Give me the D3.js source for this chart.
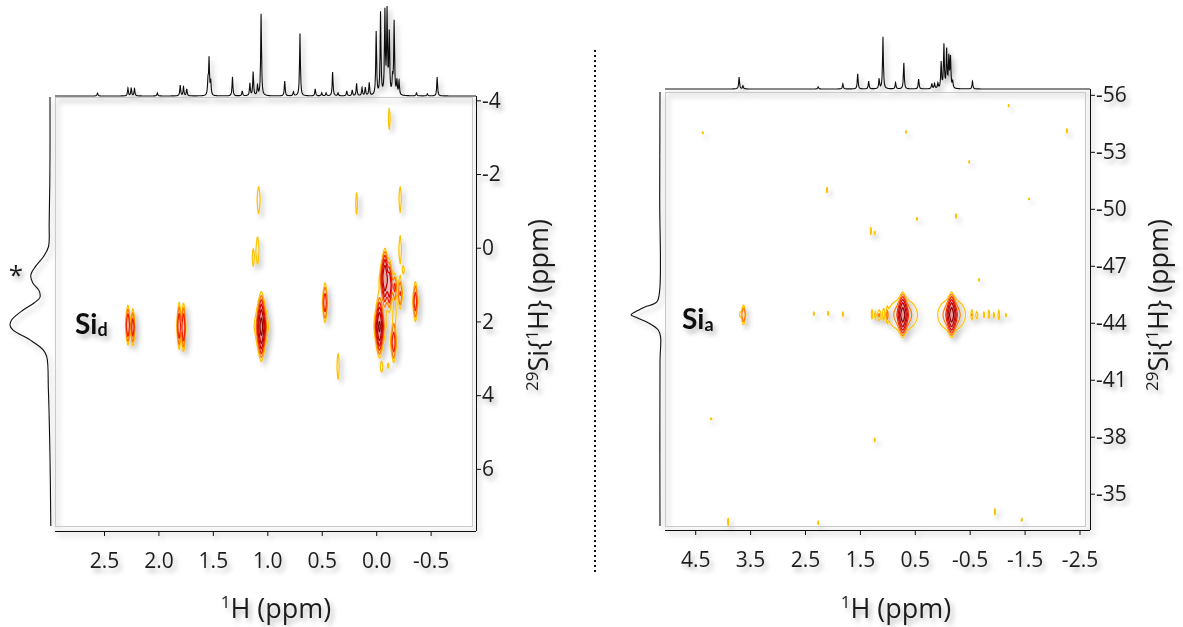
<!DOCTYPE html>
<html>
<head>
<meta charset="utf-8">
<script src="https://cdn.jsdelivr.net/npm/d3@7"></script>
<style>
  body { margin: 0; background: #fff; }
  svg { display: block; }
  text { font-family: "Open Sans", "DejaVu Sans", sans-serif; fill: #1e1e1e; }
  .lbl { font-family: "Lato", "Open Sans", sans-serif; font-weight: 700; fill: #111; }
</style>
</head>
<body>
<svg id="fig" width="1183" height="627"></svg>
<script>
// ---------- tick labels ----------
const siTicksLeft  = [-4, -2, 0, 2, 4, 6];
const hTicksLeft   = [2.5, 2.0, 1.5, 1.0, 0.5, 0.0, -0.5];
const siTicksRight = [-56, -53, -50, -47, -44, -41, -38, -35];
const hTicksRight  = [4.5, 3.5, 2.5, 1.5, 0.5, -0.5, -1.5, -2.5];

// ---------- 1H projection lines: [ppm, relative height (tallest = 100)] ----------
const protonLinesLeft = [
  [2.56, 3.7], [2.28, 9.8], [2.25, 9.8], [2.22, 9], [2.01, 3.7],
  [1.80, 13], [1.77, 11], [1.74, 8.5], [1.545, 17], [1.535, 44], [1.52, 17],
  [1.32, 23], [1.23, 6], [1.16, 15], [1.13, 29], [1.09, 12], [1.057, 100],
  [0.84, 18], [0.76, 5], [0.70, 76], [0.56, 8.5], [0.50, 3.7], [0.46, 3.7],
  [0.40, 29], [0.35, 3.7], [0.27, 6], [0.22, 7], [0.18, 15], [0.13, 10],
  [0.10, 10], [0.064, 15.5], [0.0, 77], [-0.04, 100], [-0.08, 100],
  [-0.10, 100], [-0.12, 73], [-0.15, 19.5], [-0.165, 89], [-0.19, 17],
  [-0.21, 17], [-0.37, 3.7], [-0.47, 2.5], [-0.56, 23]
];
const protonLinesRight = [
  [3.70, 23], [3.63, 6], [2.26, 4], [1.81, 10], [1.54, 29], [1.34, 15],
  [1.15, 19], [1.08, 100], [0.85, 12], [0.70, 50], [0.43, 19],
  [0.19, 10], [0.14, 10], [0.08, 10], [0.02, 50], [-0.03, 83],
  [-0.08, 73], [-0.12, 58], [-0.15, 58], [-0.19, 12], [-0.55, 15]
];

// ---------- 29Si projection traces: [ppm, relative intensity] ----------
const siliconTraceLeft = [
  [-4.09, 0], [-2.46, 0], [-0.67, 0.02], [-0.02, 0.04], [0.25, 0.17],
  [0.52, 0.37], [0.74, 0.48], [0.96, 0.43], [1.15, 0.28], [1.34, 0.25],
  [1.50, 0.40], [1.69, 0.67], [1.96, 0.96], [2.10, 1.0], [2.23, 0.93],
  [2.50, 0.50], [2.77, 0.17], [2.96, 0.08], [3.86, 0.04], [5.68, 0], [7.55, -0.02]
];
const siliconTraceRight = [
  [-56.15, 0], [-50.5, 0.01], [-45.73, 0.01], [-45.10, 0.11], [-44.83, 0.52],
  [-44.57, 0.86], [-44.42, 1.0], [-44.26, 0.79], [-44.00, 0.41],
  [-43.62, 0.06], [-43.26, -0.02], [-42.0, 0], [-33.3, 0]
];

// ---------- cross peaks: [1H ppm, 29Si ppm, 1H width, 29Si width, amplitude] ----------
const crossPeaksLeft = [
  [2.28, 2.10, 0.011, 0.27, 8], [2.235, 2.16, 0.011, 0.27, 6],
  [1.81, 2.12, 0.011, 0.33, 7], [1.77, 2.16, 0.011, 0.33, 8],
  [1.055, 2.14, 0.017, 0.33, 40], [1.055, 2.12, 0.072, 0.58, 1.5],
  [1.08, -1.30, 0.015, 0.41, 1.5], [1.09, 0.08, 0.015, 0.42, 1.5],
  [1.13, 0.27, 0.012, 0.32, 1.3], [0.18, -1.20, 0.011, 0.43, 1.3],
  [-0.22, -1.33, 0.013, 0.41, 1.4], [-0.22, 0.05, 0.014, 0.43, 1.4],
  [0.47, 1.49, 0.013, 0.29, 6], [0.35, 3.22, 0.012, 0.45, 1.4],
  [-0.36, 1.46, 0.013, 0.29, 6],
  [-0.08, 0.82, 0.016, 0.30, 30], [-0.12, 1.02, 0.014, 0.28, 14],
  [-0.03, 2.14, 0.016, 0.30, 35], [-0.16, 2.57, 0.014, 0.29, 6],
  [-0.17, 1.08, 0.013, 0.20, 4], [-0.22, 1.25, 0.013, 0.25, 4],
  [-0.17, 1.76, 0.013, 0.30, 1.5], [-0.05, 3.25, 0.011, 0.15, 1.3],
  [-0.11, 3.20, 0.010, 0.10, 1.2], [-0.25, 0.60, 0.011, 0.15, 1.3],
  [-0.12, -3.50, 0.011, 0.40, 1.3],
  [-0.09, 0.90, 0.065, 0.50, 1.2], [-0.04, 2.10, 0.065, 0.62, 1.25]
];
const crossPeaksRight = [
  [0.72, -44.42, 0.04, 0.42, 45], [0.72, -44.42, 0.18, 0.55, 3],
  [-0.17, -44.42, 0.04, 0.42, 45], [-0.17, -44.42, 0.17, 0.55, 3],
  [3.62, -44.42, 0.025, 0.32, 4], [3.68, -44.45, 0.013, 0.15, 1.3],
  [1.28, -44.45, 0.013, 0.30, 1.6], [1.22, -44.40, 0.013, 0.25, 1.4],
  [1.15, -44.40, 0.025, 0.22, 2.0], [1.07, -44.45, 0.013, 0.25, 1.6],
  [1.00, -44.42, 0.013, 0.28, 1.8],
  [-0.54, -44.42, 0.013, 0.22, 1.8], [-0.63, -44.40, 0.02, 0.20, 1.5],
  [-0.76, -44.42, 0.013, 0.20, 1.5], [-0.85, -44.45, 0.013, 0.25, 1.6],
  [-0.94, -44.40, 0.013, 0.20, 1.4], [-1.03, -44.42, 0.013, 0.25, 1.7],
  [-1.16, -44.40, 0.013, 0.15, 1.3],
  [2.34, -44.48, 0.013, 0.14, 1.3], [2.08, -44.50, 0.013, 0.18, 1.3],
  [1.81, -44.45, 0.013, 0.20, 1.3], [-0.67, -46.26, 0.013, 0.12, 1.3],
  [-1.21, -55.43, 0.013, 0.10, 1.3], [4.36, -54.00, 0.013, 0.08, 1.3],
  [0.66, -54.05, 0.013, 0.12, 1.3], [-2.27, -54.10, 0.013, 0.18, 1.3],
  [-0.49, -52.47, 0.013, 0.10, 1.3], [2.10, -50.99, 0.014, 0.24, 1.3],
  [-1.58, -50.52, 0.013, 0.08, 1.3], [0.46, -49.47, 0.013, 0.14, 1.3],
  [-0.25, -49.62, 0.013, 0.20, 1.3], [1.30, -48.83, 0.014, 0.30, 1.3],
  [1.23, -48.73, 0.013, 0.12, 1.3], [4.21, -38.94, 0.020, 0.06, 1.3],
  [1.23, -37.83, 0.013, 0.14, 1.3], [-0.96, -34.05, 0.014, 0.28, 1.3],
  [-1.45, -33.62, 0.013, 0.14, 1.3], [3.90, -33.52, 0.014, 0.30, 1.3],
  [2.26, -33.47, 0.013, 0.14, 1.3]
];

const contourLevels = [1, 2, 4, 8, 16, 32];
const contourColors = ["#ffc200", "#ff7a00", "#f02000", "#d80000", "#b40000", "#8c0000"];

// ---------- drawing ----------
const W = 1183, H = 627;
const svg = d3.select("#fig");
const defs = svg.append("defs");
defs.append("filter").attr("id", "soft")
  .attr("filterUnits", "userSpaceOnUse")
  .attr("x", 0).attr("y", 0).attr("width", W).attr("height", H)
  .append("feDropShadow")
  .attr("dx", 3).attr("dy", 4).attr("stdDeviation", 2.5)
  .attr("flood-color", "#000").attr("flood-opacity", 0.28);

function drawPanel(cfg) {
  const g = svg.append("g").attr("filter", "url(#soft)");
  const x = d3.scaleLinear().domain(cfg.hDomain).range([cfg.x0, cfg.x1]);
  const y = d3.scaleLinear().domain(cfg.siDomain).range([cfg.y0, cfg.y1]);

  // plot frame
  g.append("rect")
    .attr("x", cfg.x0 + 0.5).attr("y", cfg.y0 + 0.5)
    .attr("width", cfg.x1 - cfg.x0).attr("height", cfg.y1 - cfg.y0)
    .attr("fill", "none").attr("stroke", "#c9c9c9");

  // 2D contour map on a half-pixel grid; narrow peaks get a lens profile
  const res = 2;
  const nx = Math.round((cfg.x1 - cfg.x0) * res), ny = Math.round((cfg.y1 - cfg.y0) * res);
  const field = new Float64Array(nx * ny);
  const kx = Math.abs(x(1) - x(0)) * res, ky = Math.abs(y(1) - y(0)) * res;
  for (const [h, si, sh, ss, a] of cfg.peaks) {
    const cx = (x(h) - cfg.x0) * res, cy = (y(si) - cfg.y0) * res;
    const sx = sh * kx, sy = ss * ky;
    const q = sx > 0.5 * sy ? 2 : 1.4;
    const i0 = Math.max(0, Math.floor(cx - 5 * sx)), i1 = Math.min(nx - 1, Math.ceil(cx + 5 * sx));
    const j0 = Math.max(0, Math.floor(cy - 5 * sy)), j1 = Math.min(ny - 1, Math.ceil(cy + 5 * sy));
    for (let j = j0; j <= j1; j++) {
      const dy = Math.pow(Math.abs((j + 0.5 - cy) / sy), q);
      for (let i = i0; i <= i1; i++) {
        const dx = Math.pow(Math.abs((i + 0.5 - cx) / sx), q);
        field[j * nx + i] += a * Math.exp(-0.5 * Math.pow(dx + dy, 2 / q));
      }
    }
  }
  const contours = d3.contours().size([nx, ny]).thresholds(contourLevels)(Array.from(field));
  const geo = d3.geoPath(d3.geoIdentity().scale(1 / res).translate([cfg.x0, cfg.y0]));
  g.append("g").selectAll("path").data(contours).join("path")
    .attr("d", geo)
    .attr("fill", (d, i) => i >= 2 ? "rgba(225,30,30,0.07)" : "none")
    .attr("stroke", (d, i) => contourColors[i])
    .attr("stroke-width", 1.2)
    .attr("stroke-linejoin", "round");

  // 1H projection on top
  const hScale = d3.scaleLinear().domain([0, 100]).range([0, cfg.topHeight]);
  const hw = cfg.lineWidth;
  const px = d3.range(cfg.x0, cfg.x1, 0.5).concat(cfg.topLines.map(d => x(d[0]))).sort((a, b) => a - b);
  const topPts = px.map(p => {
    const ppm = x.invert(p);
    let v = 0;
    for (const [c, hgt] of cfg.topLines) { const u = (ppm - c) / hw; v += hgt / (1 + u * u); }
    return [p, cfg.baseTop - hScale(v)];
  });
  topPts.push([cfg.axisX, cfg.baseTop]);
  g.append("path").attr("d", d3.line()(topPts))
    .attr("fill", "none").attr("stroke", "#111").attr("stroke-width", 1.1);

  // 29Si projection on the left
  const wScale = d3.scaleLinear().domain([0, 1]).range([0, cfg.sideWidth]);
  g.append("path")
    .attr("d", d3.line()
      .x(d => cfg.baseSide - wScale(d[1]))
      .y(d => y(d[0]))
      .curve(d3.curveCatmullRom.alpha(0.5))(cfg.sideTrace))
    .attr("fill", "none").attr("stroke", "#111").attr("stroke-width", 1.1);

  // axes
  const tickFont = 21;
  const minorH = d3.range(Math.ceil(Math.min(...cfg.hDomain) / cfg.hMinor), Math.floor(Math.max(...cfg.hDomain) / cfg.hMinor) + 1)
    .map(k => +(k * cfg.hMinor).toFixed(3));
  const minorSi = d3.range(Math.ceil(Math.min(...cfg.siDomain) / cfg.siMinor), Math.floor(Math.max(...cfg.siDomain) / cfg.siMinor) + 1)
    .map(k => +(k * cfg.siMinor).toFixed(3));

  const xAxisG = g.append("g").attr("transform", `translate(0,${cfg.axisY})`);
  xAxisG.call(d3.axisBottom(x).tickValues(minorH).tickSize(3).tickFormat(""));
  xAxisG.call(d3.axisBottom(x).tickValues(cfg.hTicks).tickSize(5).tickPadding(17)
    .tickFormat(d => d.toFixed(1)));
  xAxisG.selectAll(".domain").remove();
  xAxisG.append("line").attr("x1", cfg.x0).attr("x2", cfg.axisX).attr("y1", 0.5).attr("y2", 0.5)
    .attr("stroke", "#111");

  const yAxisG = g.append("g").attr("transform", `translate(${cfg.axisX},0)`);
  yAxisG.call(d3.axisRight(y).tickValues(minorSi).tickSize(3).tickFormat(""));
  yAxisG.call(d3.axisRight(y).tickValues(cfg.siTicks).tickSize(5).tickPadding(1)
    .tickFormat(d => String(d)));
  yAxisG.selectAll(".domain").remove();
  yAxisG.append("line").attr("x1", 0.5).attr("x2", 0.5).attr("y1", cfg.baseTop).attr("y2", cfg.axisY)
    .attr("stroke", "#111");

  g.selectAll(".tick line").attr("stroke", "#111");
  g.selectAll(".tick text").attr("font-size", tickFont)
    .attr("font-family", '"Open Sans", sans-serif').attr("fill", "#1e1e1e");

  // axis titles
  const tx = g.append("text").attr("x", cfg.xTitleX).attr("y", 618)
    .attr("text-anchor", "middle").attr("font-size", 27);
  tx.append("tspan").attr("font-size", 17).attr("dy", -10).text("1");
  tx.append("tspan").attr("dy", 10).text("H (ppm)");

  const ty = g.append("text")
    .attr("transform", `translate(${cfg.yTitleX},305) rotate(-90)`)
    .attr("text-anchor", "middle").attr("font-size", 27);
  ty.append("tspan").attr("font-size", 17).attr("dy", -10).text("29");
  ty.append("tspan").attr("dy", 10).text("Si{");
  ty.append("tspan").attr("font-size", 17).attr("dy", -10).text("1");
  ty.append("tspan").attr("dy", 10).text("H} (ppm)");

  // site label
  const sl = g.append("text").attr("class", "lbl")
    .attr("x", cfg.labelX).attr("y", cfg.labelY).attr("font-size", 28);
  sl.append("tspan").text("Si");
  sl.append("tspan").attr("font-size", 18).attr("dy", 2).text(cfg.labelSub);

  return g;
}

const left = drawPanel({
  x0: 55, x1: 472, y0: 97, y1: 526,
  hDomain: [2.95, -0.88], siDomain: [-4.09, 7.55],
  peaks: crossPeaksLeft, topLines: protonLinesLeft, sideTrace: siliconTraceLeft,
  topHeight: 82, baseTop: 96, lineWidth: 0.0045,
  sideWidth: 40, baseSide: 50,
  axisX: 476, axisY: 531,
  hTicks: hTicksLeft, siTicks: siTicksLeft, hMinor: 0.25, siMinor: 1,
  xTitleX: 276, yTitleX: 548,
  labelX: 75, labelY: 334, labelSub: "d"
});
left.append("text").attr("x", 16).attr("y", 284).attr("text-anchor", "middle")
  .attr("font-size", 26).attr("font-family", '"DejaVu Sans", sans-serif').text("*");

drawPanel({
  x0: 665, x1: 1085, y0: 92, y1: 526,
  hDomain: [5.05, -2.6], siDomain: [-56.15, -33.3],
  peaks: crossPeaksRight, topLines: protonLinesRight, sideTrace: siliconTraceRight,
  topHeight: 52, baseTop: 89, lineWidth: 0.009,
  sideWidth: 29, baseSide: 660,
  axisX: 1090, axisY: 530,
  hTicks: hTicksRight, siTicks: siTicksRight, hMinor: 0.25, siMinor: 0.5,
  xTitleX: 896, yTitleX: 1168,
  labelX: 682, labelY: 329, labelSub: "a"
});

// separator between the two spectra
svg.append("line").attr("x1", 595).attr("x2", 595).attr("y1", 50).attr("y2", 575)
  .attr("stroke", "#111").attr("stroke-width", 2).attr("stroke-dasharray", "2,3");
</script>
</body>
</html>
